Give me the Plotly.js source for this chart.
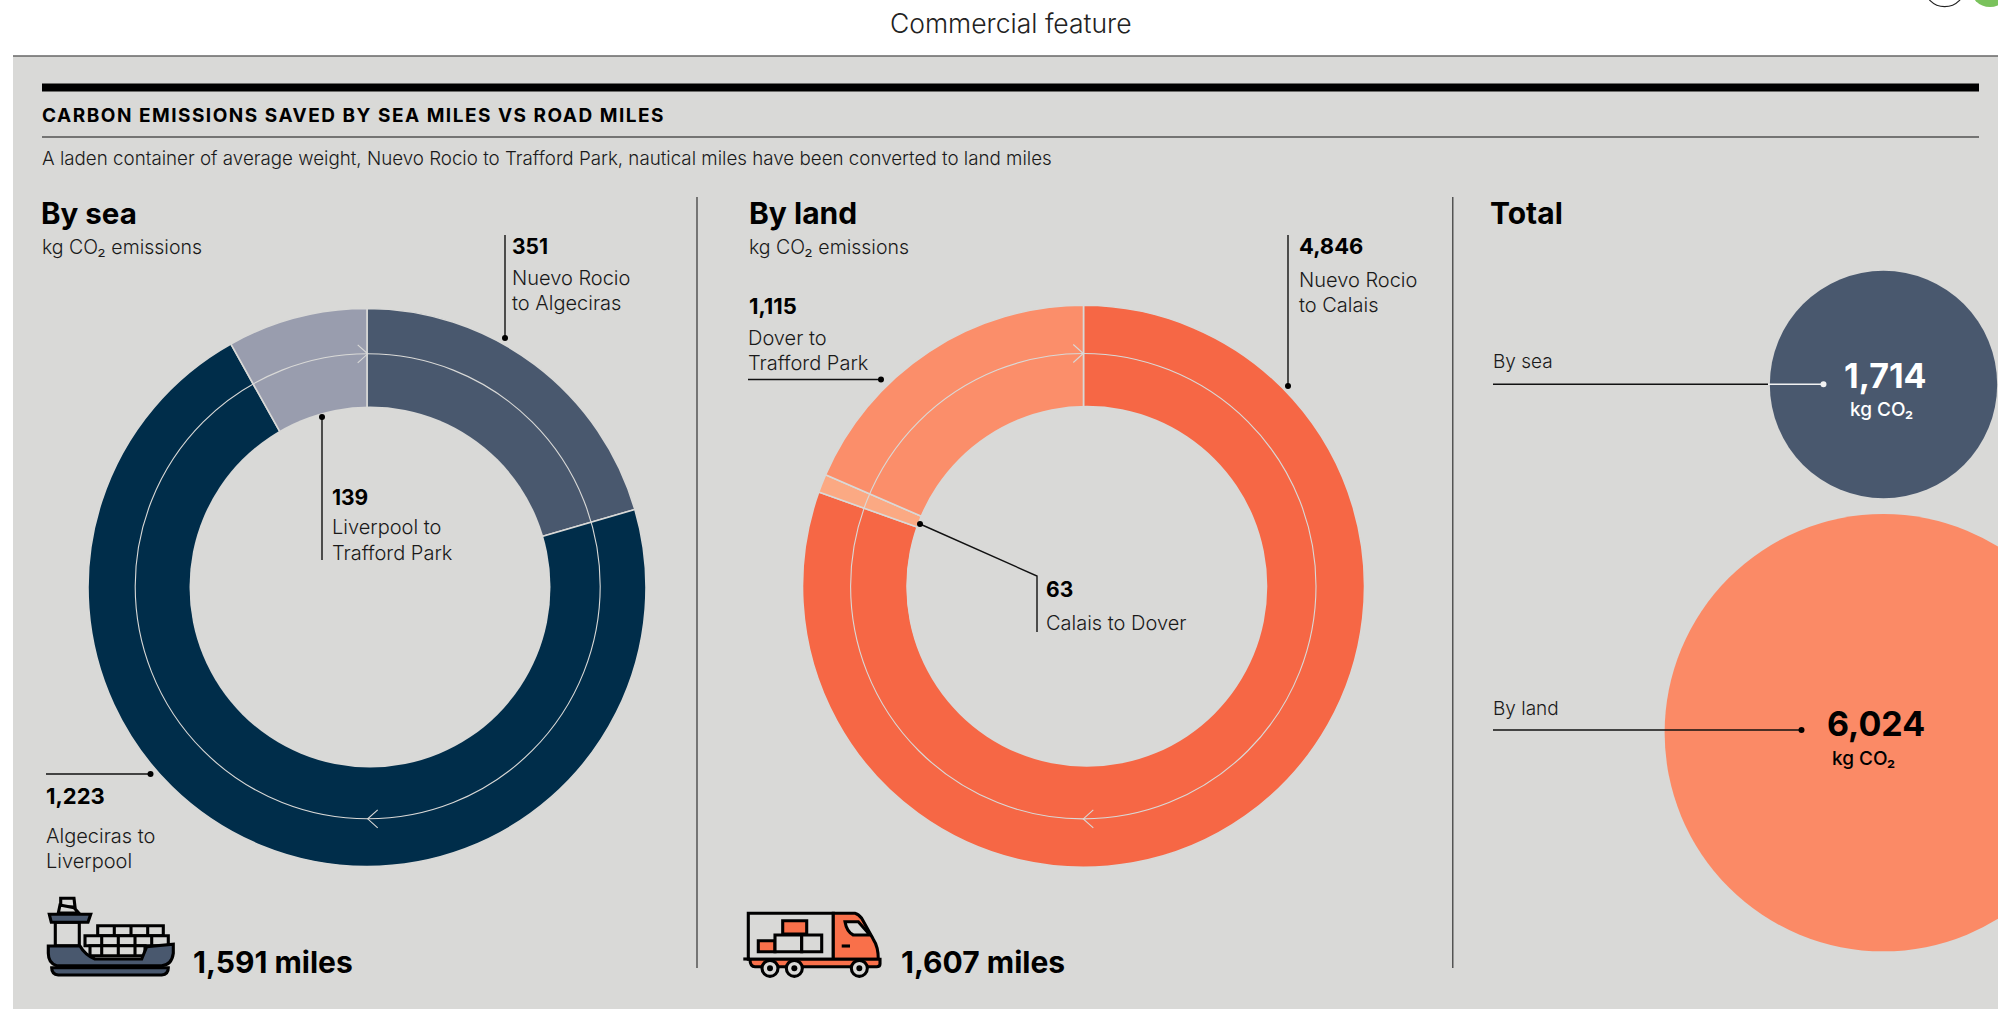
<!DOCTYPE html>
<html>
<head>
<meta charset="utf-8">
<title>Carbon emissions saved by sea miles vs road miles</title>
<script src="https://cdn.plot.ly/plotly-3.0.1.min.js"></script>
<style>
  html, body { margin: 0; padding: 0; background: #fff; overflow: hidden; }
  #chart { width: 1998px; height: 1009px; }
  /* Tracked-out capitals on the headline; annotation 1 is the headline */
  .annotation[data-index="1"] text { letter-spacing: 1.5px; }
</style>
</head>
<body>
<div id="chart"></div>
<script>
// Emissions per leg, in kg of CO2, clockwise from the start of each journey's ring
const seaLegs = ['Nuevo Rocio to Algeciras', 'Algeciras to Liverpool', 'Liverpool to Trafford Park'];
const seaValues = [351, 1223, 139];
const landLegs = ['Nuevo Rocio to Calais', 'Calais to Dover', 'Dover to Trafford Park'];
const landValues = [4846, 63, 1115];
const totalNames = ['By sea', 'By land'];
const totalValues = [1714, 6024];
const seaMiles = 1591;
const landMiles = 1607;

const W = 1998, H = 1009;
const FONT = 'Inter, "Noto Sans", sans-serif';
const PANEL = '#d9d9d7', INK = '#111111', SLATE = '#49586e', NAVY = '#002d4a';
const fmt = v => v.toLocaleString('en-US');

// Ring geometry in page pixels. The hole sits slightly right of the ring's centre,
// so it is cut by a panel-coloured disc laid over a smaller concentric pie hole.
const seaRing = {
  cx: 367, cy: 587.5, r: 279,
  holeCx: 370, holeCy: 587, holeR: 180.5,
  midCx: 367.7, midCy: 586.3, midR: 232.5
};
const landRing = {
  cx: 1083.5, cy: 586.3, r: 281,
  holeCx: 1086.8, holeCy: 586.3, holeR: 180.5,
  midCx: 1083.3, midCy: 586.2, midR: 232.7
};

function ringTrace(ring, legs, values, colors) {
  return {
    type: 'pie', labels: legs, values: values, sort: false, direction: 'clockwise', rotation: 0,
    hole: (ring.holeR - 4.5) / ring.r, textinfo: 'none', hoverinfo: 'label+value', showlegend: false,
    marker: {colors: colors, line: {color: PANEL, width: 1.6}},
    domain: {
      x: [(ring.cx - ring.r) / W, (ring.cx + ring.r) / W],
      y: [(H - ring.cy - ring.r) / H, (H - ring.cy + ring.r) / H]
    }
  };
}

// Bubble diameter in pixels for a total
const bubbleDiameter = v => 2 * 2.357 * Math.pow(v, 0.5205);
const bubbles = {
  type: 'scatter', mode: 'markers', x: [1883.5, 1883.3], y: [384.5, 732.7],
  text: totalNames, customdata: totalValues, hovertemplate: '%{text}: %{customdata}<extra></extra>',
  showlegend: false, cliponaxis: false,
  marker: {size: totalValues.map(bubbleDiameter), sizemode: 'diameter', opacity: 1, color: [SLATE, '#fb8a66'], line: {width: 0}}
};

const shapes = [];
const line = (x0, y0, x1, y1, color, width, layer) => shapes.push({
  type: 'line', xref: 'x', yref: 'y', x0, y0, x1, y1, layer: layer || 'above',
  line: {color: color || INK, width: width || 1.4}
});
const circle = (cx, cy, r, fill, stroke, width, layer) => shapes.push({
  type: 'circle', xref: 'x', yref: 'y', x0: cx - r, x1: cx + r, y0: cy - r, y1: cy + r,
  layer: layer || 'above', fillcolor: fill || 'rgba(0,0,0,0)',
  line: {color: stroke || 'rgba(0,0,0,0)', width: width || 0}
});
const rect = (x0, y0, x1, y1, fill, layer) => shapes.push({
  type: 'rect', xref: 'x', yref: 'y', x0, y0, x1, y1, layer: layer || 'below',
  fillcolor: fill, line: {width: 0}
});
const path = (d, fill, stroke, width) => shapes.push({
  type: 'path', xref: 'x', yref: 'y', path: d, layer: 'above',
  fillcolor: fill || 'rgba(0,0,0,0)',
  line: {color: stroke || '#000000', width: width === undefined ? 3.1 : width}
});

// Page furniture
circle(1944.7, -14, 20.6, '#ffffff', '#222222', 1.2, 'below');
circle(1990, -13, 20, '#7ac25c', null, 0, 'below');
rect(13, 56, W, H, PANEL);
line(13, 56, W, 56, '#666666', 1.4, 'below');
rect(42, 83.5, 1979, 91.5, '#000000');
line(42, 137, 1979, 137, INK, 1.2, 'below');
line(697, 197, 697, 968, '#333333', 1.2, 'below');
line(1452.8, 197, 1452.8, 968, '#333333', 1.2, 'below');

// Hole disc, direction-of-travel circle and chevrons on a ring
function travelRing(ring) {
  circle(ring.holeCx, ring.holeCy, ring.holeR, PANEL);
  circle(ring.midCx, ring.midCy, ring.midR, null, PANEL, 1.1);
  const t = ring.midCy - ring.midR, b = ring.midCy + ring.midR, c = ring.midCx;
  path(`M${c - 10},${t - 9} L${c},${t} L${c - 10},${t + 9}`, null, PANEL, 1.1);
  path(`M${c + 10},${b - 9} L${c},${b} L${c + 10},${b + 9}`, null, PANEL, 1.1);
}
travelRing(seaRing);
travelRing(landRing);

// Leader lines
const dot = (x, y, r, c) => circle(x, y, r || 3, c || '#000000');
line(505, 235, 505, 338); dot(505, 338);
line(322, 417, 322, 560); dot(322, 417);
line(46, 774, 150.5, 774); dot(150.5, 774);
line(1288, 235, 1288, 386); dot(1288, 386);
line(748, 379.5, 881, 379.5); dot(881, 379.5);
path('M920,524 L1037,576 L1037,632', null, INK, 1.4); dot(920, 524);
line(1493, 384.3, 1768, 384.3);
line(1768, 384.3, 1823.5, 384.3, '#f2f2f2', 1.4); dot(1823.5, 384.3, 3, '#f2f2f2');
line(1493, 730, 1801.5, 730); dot(1801.5, 730);

// Icon helper: coordinates drawn on a 3x grid from the given origin
function iconPath(ox, oy, d) {
  return d.replace(/(-?[\d.]+),(-?[\d.]+)/g, (_, a, b) => `${(ox + a / 3).toFixed(1)},${(oy + b / 3).toFixed(1)}`);
}
function iconRect(ox, oy, x0, y0, x1, y1, fill) {
  path(iconPath(ox, oy, `M${x0},${y0} L${x1},${y0} L${x1},${y1} L${x0},${y1} Z`), fill);
}
function iconLine(ox, oy, x0, y0, x1, y1) {
  path(iconPath(ox, oy, `M${x0},${y0} L${x1},${y1}`));
}

// Container ship
(function ship(ox, oy) {
  const p = (d, f) => path(iconPath(ox, oy, d), f);
  p('M92,40 L132,40 L135,66 L92,66 Z', PANEL);
  p('M85,84 L90,60 L132,68 L146,84 Z', PANEL);
  iconRect(ox, oy, 76, 112, 148, 182, PANEL);
  p('M58,88 L182,88 L174,112 L64,112 Z', SLATE);
  iconRect(ox, oy, 203, 122, 400, 152, PANEL);
  [253, 303, 353].forEach(x => iconLine(ox, oy, x, 122, x, 152));
  iconRect(ox, oy, 165, 152, 415, 182, PANEL);
  [215, 265, 315, 365].forEach(x => iconLine(ox, oy, x, 152, x, 182));
  iconRect(ox, oy, 180, 182, 345, 212, PANEL);
  [215, 265, 315].forEach(x => iconLine(ox, oy, x, 182, x, 212));
  p('M55,183 L150,183 Q165,210 195,222 L335,222 L350,185 L430,178 L430,205 Q425,240 395,242 L80,242 Q55,235 55,205 Z', SLATE);
  p('M65,248 L415,248 Q415,268 395,270 L85,270 Q65,268 65,248 Z', SLATE);
})(30, 885);

// Delivery lorry
(function lorry(ox, oy) {
  const ORANGE = '#f9704a';
  const p = (d, f) => path(iconPath(ox, oy, d), f);
  p('M55,40 L310,40 L310,178 L55,178 Z', PANEL);
  p('M310,40 L375,40 Q385,42 395,55 L430,118 Q445,140 445,178 L310,178 Z', ORANGE);
  p('M345,65 L385,65 L420,105 L370,105 Q350,95 345,65 Z', PANEL);
  iconLine(ox, oy, 335, 138, 360, 138);
  p('M60,178 L450,178 L450,192 Q450,200 440,200 L75,200 Q60,200 60,178 Z', ORANGE);
  iconLine(ox, oy, 40, 177, 60, 177);
  iconRect(ox, oy, 85, 122, 135, 155, ORANGE);
  iconRect(ox, oy, 135, 105, 215, 155, PANEL);
  iconRect(ox, oy, 215, 105, 275, 155, PANEL);
  iconRect(ox, oy, 158, 62, 230, 102, ORANGE);
  [[120, 205], [193, 205], [388, 205]].forEach(([x, y]) => {
    circle(ox + x / 3, oy + y / 3, 8, PANEL, '#000000', 3.1);
    circle(ox + x / 3, oy + y / 3, 3, '#000000');
  });
})(730, 900);

// Text
const annotations = [];
function label(x, y, text, size, opts) {
  const o = opts || {};
  annotations.push({
    xref: 'x', yref: 'y', x, y, text, showarrow: false, xanchor: o.anchor || 'left', yanchor: 'middle',
    borderpad: 0, borderwidth: 0, align: o.anchor === 'center' ? 'center' : 'left',
    font: {family: FONT, size, color: o.color || '#1a1a1a', weight: o.weight || 300}
  });
}
const BOLD = {weight: 700, color: '#000000'};
label(1011, 23, 'Commercial feature', 26.5, {anchor: 'center', color: '#222222'});
label(42, 115, 'CARBON EMISSIONS SAVED BY SEA MILES VS ROAD MILES', 19, BOLD);
label(42, 158, 'A laden container of average weight, Nuevo Rocio to Trafford Park, nautical miles have been converted to land miles', 18.75);

label(41, 213, 'By sea', 29.5, BOLD);
label(42, 247, 'kg CO₂ emissions', 19.5);
label(512, 246, fmt(seaValues[0]), 21, BOLD);
label(512, 278, 'Nuevo Rocio', 20);
label(512, 303, 'to Algeciras', 20);
label(332, 497, fmt(seaValues[2]), 21, BOLD);
label(332, 527, 'Liverpool to', 20);
label(332, 553, 'Trafford Park', 20);
label(46, 796, fmt(seaValues[1]), 22, BOLD);
label(46, 836, 'Algeciras to', 20);
label(46, 861, 'Liverpool', 20);
label(193, 962, `${fmt(seaMiles)} miles`, 30, BOLD);

label(749, 213, 'By land', 30, BOLD);
label(749, 247, 'kg CO₂ emissions', 19.5);
label(1299, 246, fmt(landValues[0]), 22, BOLD);
label(1299, 280, 'Nuevo Rocio', 20);
label(1299, 305, 'to Calais', 20);
label(749, 306, fmt(landValues[2]), 22, BOLD);
label(748, 338, 'Dover to', 20);
label(748, 363, 'Trafford Park', 20);
label(1046, 589, fmt(landValues[1]), 21, BOLD);
label(1046, 623, 'Calais to Dover', 20);
label(901, 962, `${fmt(landMiles)} miles`, 30, BOLD);

label(1490, 213, 'Total', 30, BOLD);
label(1493, 361, totalNames[0], 19);
label(1493, 708, totalNames[1], 19);
label(1885, 375, fmt(totalValues[0]), 34, {anchor: 'center', weight: 700, color: '#ffffff'});
label(1881, 409, 'kg CO₂', 19, {anchor: 'center', weight: 500, color: '#ffffff'});
label(1876, 723, fmt(totalValues[1]), 34, {anchor: 'center', weight: 700, color: '#000000'});
label(1863, 758, 'kg CO₂', 19, {anchor: 'center', weight: 500, color: '#000000'});

const traces = [
  bubbles,
  ringTrace(seaRing, seaLegs, seaValues, [SLATE, NAVY, '#999dae']),
  ringTrace(landRing, landLegs, landValues, ['#f66745', '#fba983', '#fb8e6a'])
];

const layout = {
  width: W, height: H, margin: {l: 0, r: 0, t: 0, b: 0, pad: 0},
  paper_bgcolor: '#ffffff', plot_bgcolor: 'rgba(0,0,0,0)',
  font: {family: FONT},
  xaxis: {range: [0, W], visible: false, fixedrange: true},
  yaxis: {range: [H, 0], visible: false, fixedrange: true},
  shapes, annotations
};

Plotly.newPlot('chart', traces, layout, {displayModeBar: false, responsive: false});
</script>
</body>
</html>
